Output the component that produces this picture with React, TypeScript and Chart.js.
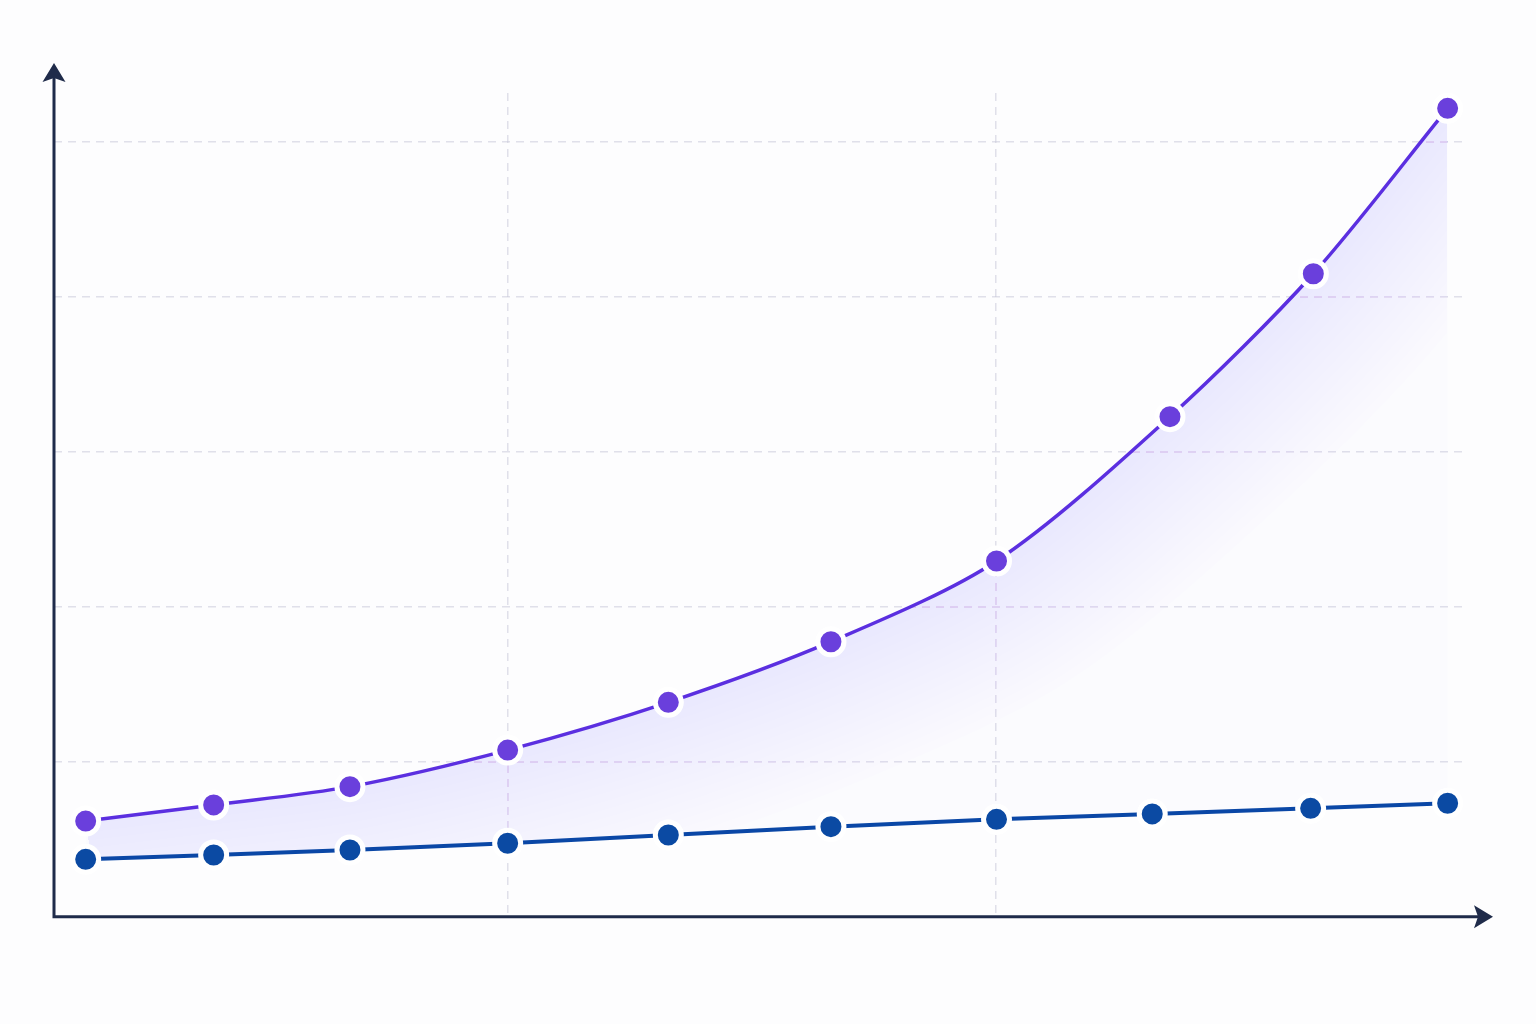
import React, { useEffect, useRef } from 'react';
import { Chart, registerables } from 'chart.js';

Chart.register(...registerables);

// Data (x on a 0-100 scale, y in grid units)
const growthX = [2.25, 11.34, 21.02, 32.22, 43.63, 55.18, 66.94, 79.26, 89.44, 98.98];
const growthY = [0.617, 0.721, 0.839, 1.075, 1.383, 1.774, 2.295, 3.226, 4.148, 5.215];
const baseX = [2.25, 11.34, 21.02, 32.22, 43.63, 55.18, 66.94, 78.0, 89.25, 98.98];
const baseY = [0.37, 0.398, 0.43, 0.474, 0.527, 0.581, 0.628, 0.663, 0.699, 0.732];

// Grid line positions
const xGridTicks = [32.26, 66.92];
const yGridTicks = [1, 2, 3, 4, 5];

const AXIS_COLOR = '#1f2b4a';
const PURPLE = '#5b2fe0';
const PURPLE_POINT = '#6a3fdc';
const BLUE = '#0a47a6';
const BLUE_POINT = '#0b4aa3';

// soft glow under the growth curve, clipped to the band between the two lines
const glowPlugin = {
  id: 'glow',
  beforeDatasetsDraw(chart: any) {
    const topMeta = chart.getDatasetMeta(0);
    const bottomMeta = chart.getDatasetMeta(1);
    const line = topMeta.dataset;
    if (!line || !bottomMeta.data.length) return;
    line.updateControlPoints(chart.chartArea, 'x');
    const ctx = chart.ctx;
    ctx.save();
    ctx.beginPath();
    line.path(ctx);
    const pts = bottomMeta.data;
    for (let i = pts.length - 1; i >= 0; i--) ctx.lineTo(pts[i].x, pts[i].y);
    ctx.closePath();
    ctx.clip();
    ctx.lineJoin = 'round';
    ctx.lineCap = 'butt';
    ctx.strokeStyle = 'rgba(106, 61, 232, 0.0065)';
    for (let i = 0; i < 18; i++) {
      ctx.beginPath();
      line.path(ctx);
      ctx.lineWidth = 8 + i * 16;
      ctx.stroke();
    }
    ctx.restore();
  },
};

// axis lines with arrow heads
const axesPlugin = {
  id: 'arrowAxes',
  afterDatasetsDraw(chart: any) {
    const { ctx, chartArea } = chart;
    const left = chartArea.left;
    const bottom = chartArea.bottom;
    const yTip = chartArea.top - 30;
    const xTip = chartArea.right + 31;
    ctx.save();
    ctx.strokeStyle = AXIS_COLOR;
    ctx.fillStyle = AXIS_COLOR;
    ctx.lineWidth = 3;
    ctx.lineCap = 'square';
    ctx.beginPath();
    ctx.moveTo(left, bottom);
    ctx.lineTo(left, yTip + 12);
    ctx.moveTo(left, bottom);
    ctx.lineTo(xTip - 12, bottom);
    ctx.stroke();

    ctx.beginPath();
    ctx.moveTo(left, yTip);
    ctx.lineTo(left - 11.5, yTip + 19);
    ctx.lineTo(left, yTip + 15);
    ctx.lineTo(left + 11.5, yTip + 19);
    ctx.closePath();
    ctx.fill();

    ctx.beginPath();
    ctx.moveTo(xTip, bottom);
    ctx.lineTo(xTip - 19, bottom - 11.5);
    ctx.lineTo(xTip - 15, bottom);
    ctx.lineTo(xTip - 19, bottom + 11.5);
    ctx.closePath();
    ctx.fill();
    ctx.restore();
  },
};

const App = () => {
  const chartRef = useRef<HTMLCanvasElement>(null);
  const chartInstance = useRef<Chart | null>(null);

  useEffect(() => {
    if (!chartRef.current) return;
    const ctx = chartRef.current.getContext('2d');
    if (!ctx) return;
    if (chartInstance.current) chartInstance.current.destroy();

    const gridColor = 'rgba(200, 200, 216, 0.55)';

    chartInstance.current = new Chart(ctx, {
      type: 'line',
      data: {
        datasets: [
          {
            label: 'Growth',
            data: growthX.map((x, i) => ({ x, y: growthY[i] })),
            borderColor: PURPLE,
            borderWidth: 3.5,
            backgroundColor: 'rgba(106, 61, 232, 0.012)',
            fill: '+1',
            tension: 0.3,
            pointRadius: 13,
            pointBorderWidth: 5,
            pointBackgroundColor: PURPLE_POINT,
            pointBorderColor: '#ffffff',
            clip: false,
            order: 2,
          },
          {
            label: 'Baseline',
            data: baseX.map((x, i) => ({ x, y: baseY[i] })),
            borderColor: BLUE,
            borderWidth: 4,
            fill: false,
            tension: 0,
            pointRadius: 13,
            pointBorderWidth: 5,
            pointBackgroundColor: BLUE_POINT,
            pointBorderColor: '#ffffff',
            clip: false,
            order: 1,
          },
        ],
      },
      options: {
        animation: false,
        responsive: true,
        maintainAspectRatio: false,
        events: [],
        layout: {
          padding: { left: 54, right: 74, top: 93, bottom: 107.3 },
        },
        plugins: {
          legend: { display: false },
          tooltip: { enabled: false },
          filler: { drawTime: 'beforeDatasetsDraw' },
        },
        scales: {
          x: {
            type: 'linear',
            min: 0,
            max: 100,
            afterBuildTicks: (scale: any) => {
              scale.ticks = xGridTicks.map((value) => ({ value }));
            },
            afterFit: (scale: any) => {
              scale.height = 0;
            },
            ticks: { display: false },
            grid: { color: gridColor, lineWidth: 1.5, drawTicks: false },
            border: { display: false, dash: [8, 6] },
          },
          y: {
            type: 'linear',
            min: 0,
            max: 5.314,
            afterBuildTicks: (scale: any) => {
              scale.ticks = yGridTicks.map((value) => ({ value }));
            },
            afterFit: (scale: any) => {
              scale.width = 0;
            },
            ticks: { display: false },
            grid: { color: gridColor, lineWidth: 1.5, drawTicks: false },
            border: { display: false, dash: [8, 6] },
          },
        },
      },
      plugins: [glowPlugin, axesPlugin],
    });

    return () => {
      if (chartInstance.current) {
        chartInstance.current.destroy();
        chartInstance.current = null;
      }
    };
  }, []);

  return (
    <div
      style={{
        position: 'fixed',
        top: 0,
        left: 0,
        width: '1536px',
        height: '1024px',
        background: '#fdfdfe',
      }}
    >
      <canvas ref={chartRef}></canvas>
    </div>
  );
};

export default App;
